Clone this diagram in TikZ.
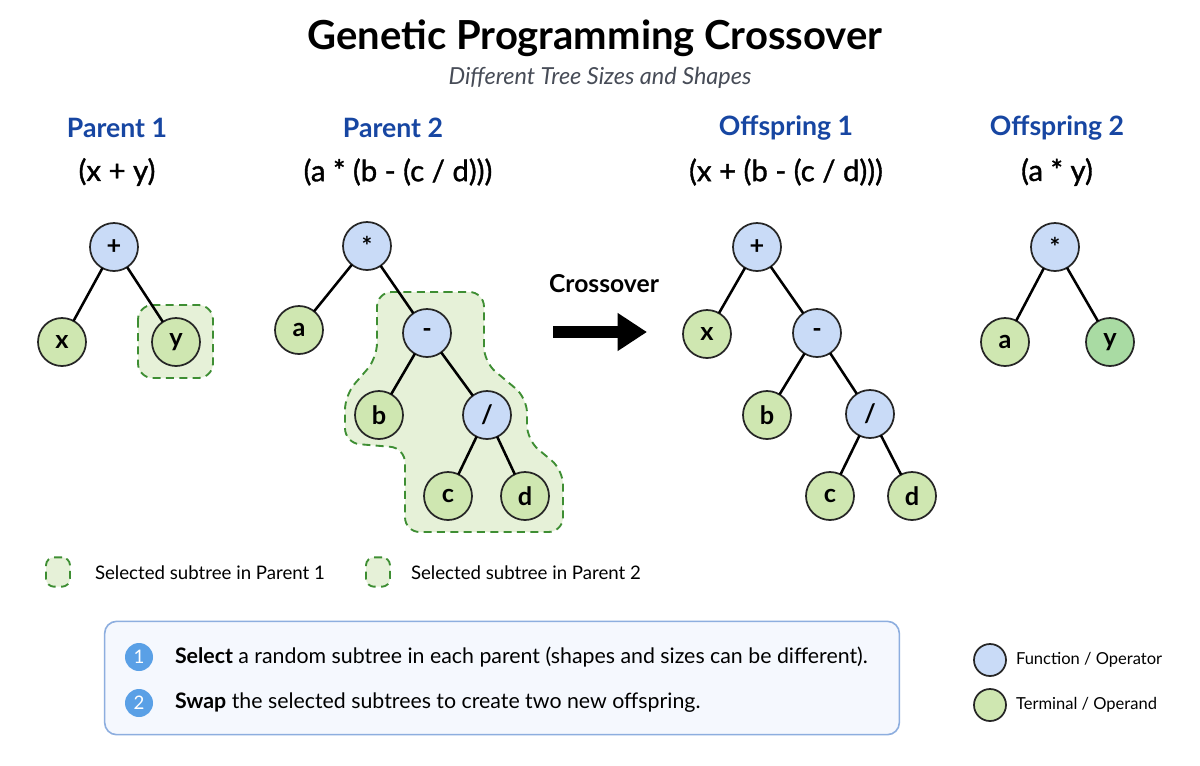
\documentclass[tikz,border=0pt]{standalone}
\usepackage{fontspec}
\setmainfont{Lato}
\newfontfamily\exprfont[FakeBold=1.2]{Lato}
\usetikzlibrary{arrows.meta, positioning}

\definecolor{funcblue}{HTML}{C9DBF7}
\definecolor{termgreen}{HTML}{CFE7B1}
\definecolor{swapgreen}{HTML}{A9DBA3}
\definecolor{selgreen}{HTML}{3E8E33}
\definecolor{selfill}{HTML}{E6F1D8}
\definecolor{headblue}{HTML}{1746A2}
\definecolor{subgray}{HTML}{474C57}
\definecolor{stepblue}{HTML}{5AA0E6}
\definecolor{boxedge}{HTML}{8DAEDF}
\definecolor{boxfill}{HTML}{F5F8FE}

\begin{document}
\begin{tikzpicture}[
    x=0.75pt, y=-0.75pt,
    every node/.style={inner sep=0pt, outer sep=0pt},
    func/.style={circle, draw=black!85, line width=1.3pt, fill=funcblue, minimum size=36pt, font=\fontsize{19}{19}\selectfont\bfseries},
    term/.style={func, fill=termgreen},
    edge/.style={line width=1.9pt},
    header/.style={font=\fontsize{20}{20}\selectfont\bfseries, text=headblue},
    expr/.style={font=\fontsize{22}{22}\selectfont\exprfont},
    selbox/.style={draw=selgreen, fill=selfill, line width=1.4pt, dash pattern=on 6pt off 4pt, rounded corners=11pt},
    legtext/.style={anchor=west, font=\fontsize{14}{14}\selectfont},
    stepnum/.style={circle, fill=stepblue, minimum size=21pt, text=white, font=\fontsize{14}{14}\selectfont},
    steptext/.style={anchor=west, font=\fontsize{16}{16}\selectfont}
]
    \useasboundingbox[fill=white] (0,0) rectangle (1200,765);

    % Titles
    \node[font=\fontsize{30}{30}\selectfont\bfseries] (title) at (595,38) {Genetic Programming Crossover};
    \node[font=\fontsize{17.6}{17.6}\selectfont\itshape, text=subgray] (subtitle) at (600,78) {Different Tree Sizes and Shapes};

    \node[header] (hpone) at (117,128) {Parent 1};
    \node[header] (hptwo) at (393,128) {Parent 2};
    \node[header] (hoone) at (786,128) {Offspring 1};
    \node[header] (hotwo) at (1057,128) {Offspring 2};

    \node[expr] (epone) at (117,172) {(x + y)};
    \node[expr] (eptwo) at (398,172) {(a * (b - (c / d)))};
    \node[expr] (eoone) at (786,172) {(x + (b - (c / d)))};
    \node[expr] (eotwo) at (1057,172) {(a * y)};

    % Selected subtrees
    \draw[selbox] (138,305) rectangle (213,378);
    \draw[selbox] (430,292) -- (484,292) -- (484,362) -- (527,398) -- (527,440) -- (563,470)
        -- (563,532) -- (405,532) -- (405,448) -- (345,443) -- (345,395) -- (377,358) -- (377,292) -- cycle;

    % Parent 1
    \node[func] (pa) at (114,247) {+};
    \node[term] (pax) at (62,342) {x};
    \node[term] (pay) at (176,342) {y};
    \draw[edge] (pa) -- (pax);
    \draw[edge] (pa) -- (pay);

    % Parent 2
    \node[func] (pb) at (367,246) {*};
    \node[term] (pba) at (299,330) {a};
    \node[func] (pbm) at (427,333) {-};
    \node[term] (pbb) at (379,415) {b};
    \node[func] (pbd) at (487,415) {/};
    \node[term] (pbc) at (448,496) {c};
    \node[term] (pbe) at (525,496) {d};
    \draw[edge] (pb) -- (pba);
    \draw[edge] (pb) -- (pbm);
    \draw[edge] (pbm) -- (pbb);
    \draw[edge] (pbm) -- (pbd);
    \draw[edge] (pbd) -- (pbc);
    \draw[edge] (pbd) -- (pbe);

    % Crossover arrow
    \node[font=\fontsize{18.5}{18.5}\selectfont\bfseries] (xlabel) at (604,284) {Crossover};
    \coordinate (arrfrom) at (553,332);
    \coordinate (arrto) at (647,332);
    \draw[line width=9pt, -{Triangle[length=22pt, width=27pt]}] (arrfrom) -- (arrto);

    % Offspring 1
    \node[func] (oa) at (757,247) {+};
    \node[term] (oax) at (707,334) {x};
    \node[func] (oam) at (817,333) {-};
    \node[term] (oab) at (767,415) {b};
    \node[func] (oad) at (870,414) {/};
    \node[term] (oac) at (830,496) {c};
    \node[term] (oae) at (912,496) {d};
    \draw[edge] (oa) -- (oax);
    \draw[edge] (oa) -- (oam);
    \draw[edge] (oam) -- (oab);
    \draw[edge] (oam) -- (oad);
    \draw[edge] (oad) -- (oac);
    \draw[edge] (oad) -- (oae);

    % Offspring 2
    \node[func] (ob) at (1055,247) {*};
    \node[term] (oba) at (1005,342) {a};
    \node[term, fill=swapgreen] (oby) at (1110,342) {y};
    \draw[edge] (ob) -- (oba);
    \draw[edge] (ob) -- (oby);

    % Legend for selections
    \node[selbox, rounded corners=6pt, minimum width=18pt, minimum height=22pt] (selone) at (58,572) {};
    \node[legtext] (selonetext) at (95,573) {Selected subtree in Parent 1};
    \node[selbox, rounded corners=6pt, minimum width=18pt, minimum height=22pt] (seltwo) at (378,572) {};
    \node[legtext] (seltwotext) at (411,573) {Selected subtree in Parent 2};

    % Steps box
    \node[draw=boxedge, fill=boxfill, line width=1.2pt, rounded corners=9pt, minimum width=596pt, minimum height=85pt] (stepsbox) at (502,678) {};
    \node[stepnum] (sone) at (139,657) {1};
    \node[steptext] (sonetext) at (175,657) {\textbf{Select} a random subtree in each parent (shapes and sizes can be different).};
    \node[stepnum] (stwo) at (139,703) {2};
    \node[steptext] (stwotext) at (175,703) {\textbf{Swap} the selected subtrees to create two new offspring.};

    % Node legend
    \node[func, minimum size=24pt] (lfunc) at (990,660) {};
    \node[legtext, font=\fontsize{12.4}{12.4}\selectfont] (lfunctext) at (1016,660) {Function / Operator};
    \node[term, minimum size=24pt] (lterm) at (990,705) {};
    \node[legtext, font=\fontsize{12.4}{12.4}\selectfont] (ltermtext) at (1016,705) {Terminal / Operand};
\end{tikzpicture}
\end{document}
